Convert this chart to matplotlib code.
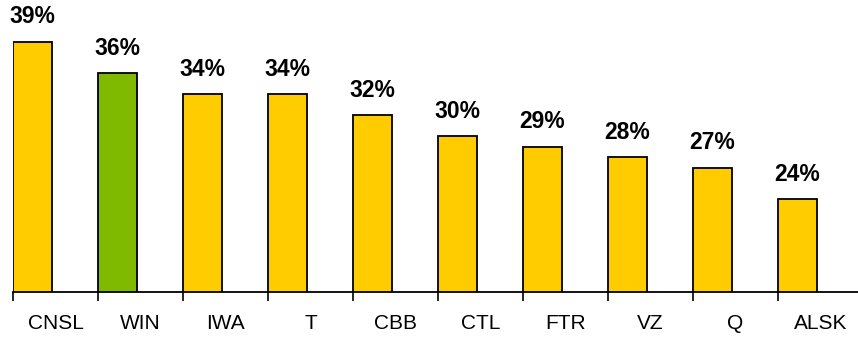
#!/usr/bin/env python3
import matplotlib as mpl
mpl.use('Agg')
import matplotlib.pyplot as plt

tickers = ['CNSL', 'WIN', 'IWA', 'T', 'CBB', 'CTL', 'FTR', 'VZ', 'Q', 'ALSK']
values = [39, 36, 34, 34, 32, 30, 29, 28, 27, 24]
colors = ['#FFCC00', '#7FBA00'] + ['#FFCC00'] * 8

plt.rcParams['font.family'] = ['Liberation Sans', 'DejaVu Sans']

fig = plt.figure(figsize=(8.58, 3.37), dpi=100)
ax = fig.add_axes([13 / 858, 1 - 292 / 337, 1 - 13 / 858, 262 / 337])

pos = list(range(len(tickers)))
ax.bar(pos, values, width=39 / 85, align='edge', color=colors,
       edgecolor='black', linewidth=1.3, zorder=2)

for x, v in zip(pos, values):
    ax.text(x + 39 / 85 / 2, v + 1.3, '%d%%' % v, ha='center', va='bottom',
            fontsize=16.5, fontweight='bold', clip_on=False)

ax.set_ylim(15.15, 40.15)
ax.set_xlim(0, 845 / 85)

ax.set_xticks(pos)
ax.set_xticklabels([])
ax.set_xticks([p + 0.5 for p in pos], minor=True)
ax.set_xticklabels(tickers, minor=True, fontsize=15)
ax.tick_params(axis='x', which='major', direction='out', length=6.5, width=1.2)
ax.tick_params(axis='x', which='minor', length=0, pad=16)

ax.set_yticks([])
for s in ['top', 'right', 'left']:
    ax.spines[s].set_visible(False)
ax.spines['bottom'].set_linewidth(1.3)

fig.savefig('out.png', dpi=100)
